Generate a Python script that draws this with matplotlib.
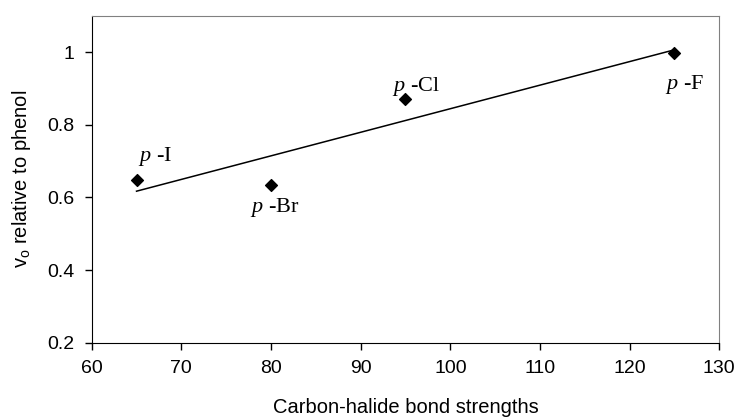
import numpy as np
import matplotlib
matplotlib.use("Agg")
import matplotlib.pyplot as plt

plt.rcParams['font.family'] = 'Liberation Sans'
plt.rcParams['mathtext.fontset'] = 'custom'
plt.rcParams['mathtext.rm'] = 'Liberation Sans'
plt.rcParams['mathtext.it'] = 'Liberation Serif:italic'

# bond strength vs relative rate
bond_strength = [65, 80, 95, 125]
rel_rate = [0.647, 0.634, 0.872, 0.996]
names = ['I', 'Br', 'Cl', 'F']
label_x = [65.2, 77.7, 93.45, 123.9]
label_y = [0.70, 0.559, 0.893, 0.898]

# linear trendline
slope, intercept = np.polyfit(bond_strength, rel_rate, 1)
fit_x = np.array([min(bond_strength), max(bond_strength)])
fit_y = slope * fit_x + intercept

fig = plt.figure(figsize=(7.38, 4.18), dpi=100)
ax = fig.add_axes([91.7 / 738, 1 - 342.7 / 418, (719.3 - 91.7) / 738, (342.7 - 15.7) / 418])

ax.plot(fit_x, fit_y, color='black', lw=1.1)
ax.scatter(bond_strength, rel_rate, marker='D', s=36, color='black', zorder=3)

for n, lx, ly in zip(names, label_x, label_y):
    ax.text(lx, ly, r'$\it{p}$ -' + n, ha='left', va='baseline', fontsize=16,
            family='Liberation Serif')

ax.set_xlim(60, 130)
ax.set_ylim(0.2, 1.1)
ax.set_xticks(range(60, 131, 10))
ax.set_yticks([0.2, 0.4, 0.6, 0.8, 1.0])
ax.set_yticklabels(['0.2', '0.4', '0.6', '0.8', '1'])
ax.tick_params(direction='out', length=4.8, width=1, labelsize=14, pad=7.5)

for s in ['top', 'right']:
    ax.spines[s].set_color('#808080')
for s in ['left', 'bottom']:
    ax.spines[s].set_color('black')

ax.set_xlabel('Carbon-halide bond strengths', fontsize=14.5, labelpad=15)
ax.set_ylabel(r'$\mathregular{v_o}$ relative to phenol', fontsize=14.5, labelpad=10)

fig.savefig('out.png', dpi=100)
